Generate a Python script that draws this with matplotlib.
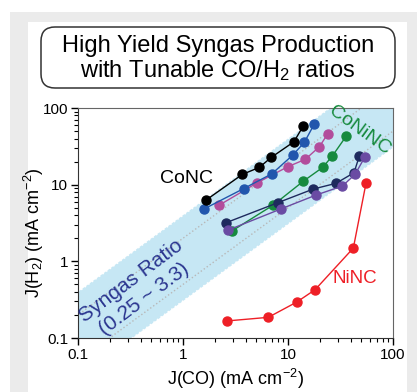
import numpy as np
import matplotlib
matplotlib.use('Agg')
import matplotlib.pyplot as plt
from matplotlib.patches import Rectangle, FancyBboxPatch
from matplotlib.ticker import LogLocator, FixedFormatter, FixedLocator, NullFormatter

plt.rcParams['font.family'] = ['Liberation Sans', 'DejaVu Sans']
plt.rcParams['mathtext.fontset'] = 'custom'
plt.rcParams['mathtext.rm'] = 'Liberation Sans'
plt.rcParams['mathtext.it'] = 'Liberation Sans:italic'

# data, J(CO) vs J(H2) in mA cm-2
conc_x = [1.66, 3.67, 5.33, 6.93, 11.4, 14.0]
conc_y = [6.3, 13.6, 16.8, 22.7, 36.3, 58.6]
blue_x = [1.58, 3.79, 7.04, 11.1, 14.3, 17.8]
blue_y = [4.81, 8.9, 13.9, 24.3, 35.6, 61.7]
pink_x = [2.22, 5.1, 9.93, 14.6, 19.9, 23.9]
pink_y = [5.42, 10.6, 17.1, 21.4, 31.2, 46.1]
green_x = [2.91, 7.24, 14.0, 21.4, 26.4, 35.7]
green_y = [2.48, 5.42, 11.1, 16.8, 23.6, 42.6]
navy_x = [2.57, 7.98, 17.4, 28.6, 42.5, 47.8]
navy_y = [3.19, 5.81, 8.77, 10.4, 14.3, 23.6]
purple_x = [2.7, 8.51, 18.5, 32.9, 43.5, 54.1]
purple_y = [2.56, 4.81, 7.32, 9.59, 13.6, 23.1]
ninc_x = [2.64, 6.49, 12.1, 18.1, 41.9, 55.3]
ninc_y = [0.167, 0.186, 0.294, 0.426, 1.49, 10.4]

ratio_low = 0.25   # CO/H2
ratio_high = 3.3
dot_ratios = [0.5, 2.0]

tick_vals = [0.1, 1, 10, 100]
tick_labels = ['0.1', '1', '10', '100']

fig = plt.figure(figsize=(4.17, 3.92), dpi=100)
fig.patch.set_facecolor('white')

# background frame in pixel units
bg = fig.add_axes([0, 0, 1, 1])
bg.set_xlim(0, 417)
bg.set_ylim(392, 0)
bg.axis('off')
bg.add_patch(Rectangle((10, 12), 407, 380, color='#ebebeb', lw=0))
bg.add_patch(Rectangle((28, 22), 379, 370, color='white', lw=0))
bg.add_patch(FancyBboxPatch((44, 30), 348, 55, boxstyle='round,pad=3,rounding_size=14',
                            fc='white', ec='#333333', lw=1.1))
bg.text(218, 46, 'High Yield Syngas Production', ha='center', va='center', fontsize=17)
bg.text(218, 71, 'with Tunable CO/H$_2$ ratios', ha='center', va='center', fontsize=17)

ax = fig.add_axes([78/417, 1-338/392, 315/417, 230/392])
ax.set_xscale('log')
ax.set_yscale('log')
ax.set_xlim(0.1, 100)
ax.set_ylim(0.1, 100)

# syngas ratio band
xb = np.array([0.01, 1000])
ax.fill_between(xb, xb/ratio_high, xb/ratio_low, color='#c6e7f4', lw=0, zorder=0)
ax.plot(xb, xb/ratio_high, color='white', ls=':', lw=1.2, zorder=1)
ax.plot(xb, xb/ratio_low, color='white', ls=':', lw=1.2, zorder=1)
for r in dot_ratios:
    ax.plot(xb, xb/r, color='#b8b8b8', ls=':', lw=1.0, zorder=1)

ms = 6.5
ax.plot(green_x, green_y, '-o', color='#168a3e', ms=ms, lw=1.0, zorder=3)
ax.plot(navy_x, navy_y, '-o', color='#1e2a5e', ms=ms, lw=1.0, zorder=3)
ax.plot(purple_x, purple_y, '-o', color='#6a4ba3', ms=ms, lw=1.0, zorder=3)
ax.plot(pink_x, pink_y, '-o', color='#b24d9c', ms=ms, lw=1.0, zorder=3)
ax.plot(blue_x, blue_y, '-o', color='#2156ad', ms=ms, lw=1.0, zorder=3)
ax.plot(conc_x, conc_y, '-o', color='black', ms=ms, lw=1.0, zorder=4)
ax.plot(ninc_x, ninc_y, '-o', color='#ee1f26', ms=ms, lw=1.0, zorder=3)

ax.text(1.09, 12.2, 'CoNC', fontsize=14, ha='center', va='center')
ax.text(48.5, 51.5, 'CoNiNC', fontsize=14, color='#168a3e', ha='center', va='center', rotation=-36)
ax.text(43.4, 0.6, 'NiNC', fontsize=13.5, color='#ee1f26', ha='center', va='center')
ax.text(0.37, 0.42, 'Syngas Ratio\n(0.25 ~ 3.3)', fontsize=15, color='#2b3690',
        ha='center', va='center', rotation=37, linespacing=1.2)

ax.xaxis.set_major_locator(FixedLocator(tick_vals))
ax.yaxis.set_major_locator(FixedLocator(tick_vals))
ax.xaxis.set_major_formatter(FixedFormatter(tick_labels))
ax.yaxis.set_major_formatter(FixedFormatter(tick_labels))
ax.xaxis.set_minor_locator(LogLocator(base=10, subs=np.arange(2, 10)))
ax.yaxis.set_minor_locator(LogLocator(base=10, subs=np.arange(2, 10)))
ax.xaxis.set_minor_formatter(NullFormatter())
ax.yaxis.set_minor_formatter(NullFormatter())
ax.tick_params(which='major', direction='out', length=5, width=1, labelsize=11, pad=2)
ax.tick_params(which='minor', direction='out', length=3, width=0.8)
ax.tick_params(top=False, right=False, which='both')
for s in ['top', 'right']:
    ax.spines[s].set_color('#666666')
for s in ['left', 'bottom']:
    ax.spines[s].set_color('#333333')

ax.set_xlabel('J(CO) (mA cm$^{-2}$)', fontsize=13)
ax.set_ylabel('J(H$_2$) (mA cm$^{-2}$)', fontsize=13)
ax.xaxis.set_label_coords(0.5, -0.125)
ax.yaxis.set_label_coords(-0.1, 0.46)

fig.savefig('out.png', dpi=100)
